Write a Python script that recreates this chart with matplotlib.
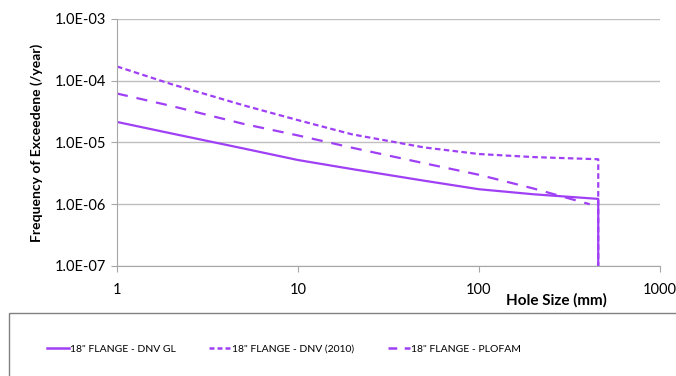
import math
import matplotlib
matplotlib.use("Agg")
import matplotlib.pyplot as plt
from matplotlib.patches import Rectangle
from matplotlib.lines import Line2D
from matplotlib.ticker import FixedLocator, FuncFormatter, NullLocator

plt.rcParams['font.family'] = ['Lato', 'DejaVu Sans']

# Data
x_gl = [1, 2, 5, 10, 20, 50, 100, 200, 457, 457]
y_gl = [2.15e-5, 1.4e-5, 8.0e-6, 5.2e-6, 3.7e-6, 2.4e-6, 1.75e-6, 1.45e-6, 1.22e-6, 1e-7]

x_dnv = [1, 2, 5, 10, 20, 50, 100, 200, 457, 457]
y_dnv = [1.7e-4, 8.8e-5, 4.0e-5, 2.3e-5, 1.35e-5, 8.3e-6, 6.5e-6, 5.8e-6, 5.35e-6, 1e-7]

x_plo = [1, 2, 5, 10, 20, 50, 100, 200, 410]
y_plo = [6.2e-5, 3.9e-5, 2.0e-5, 1.3e-5, 8.2e-6, 4.6e-6, 3.0e-6, 1.8e-6, 1.0e-6]

labels = ['18" FLANGE - DNV GL', '18" FLANGE - DNV (2010)', '18" FLANGE - PLOFAM']
color = '#A040F5'

fig = plt.figure(figsize=(6.76, 3.76), dpi=100)
ax = fig.add_axes([0.173, 0.2926, 0.803, 0.657])

ax.plot(x_gl, y_gl, color=color, lw=1.6)
ax.plot(x_dnv, y_dnv, color=color, lw=1.6, dashes=(2.5, 1.5))
ax.plot(x_plo, y_plo, color=color, lw=1.6, dashes=(5, 4))

ax.set_xscale('log')
ax.set_yscale('log')
ax.set_xlim(1, 1000)
ax.set_ylim(1e-7, 1e-3)
ax.yaxis.set_major_locator(FixedLocator([1e-7, 1e-6, 1e-5, 1e-4, 1e-3]))
ax.yaxis.set_minor_locator(NullLocator())
ax.xaxis.set_major_locator(FixedLocator([1, 10, 100, 1000]))
ax.xaxis.set_minor_locator(NullLocator())
ax.yaxis.set_major_formatter(FuncFormatter(lambda v, p: '1.0E-%02d' % round(-math.log10(v))))
ax.xaxis.set_major_formatter(FuncFormatter(lambda v, p: '%d' % round(v)))

ax.grid(axis='y', color='#BFBFBF', lw=1)
ax.set_axisbelow(True)
for s in ['top', 'right']:
    ax.spines[s].set_visible(False)
for s in ['left', 'bottom']:
    ax.spines[s].set_color('#A6A6A6')
ax.tick_params(axis='both', colors='#A6A6A6', labelcolor='black', labelsize=10.5, length=4)
ax.tick_params(axis='x', pad=8)

ax.set_ylabel('Frequency of Exceedene (/year)', fontsize=10, fontweight='bold', labelpad=9)
ax.set_xlabel('Hole Size (mm)', fontsize=11, fontweight='bold')
ax.xaxis.set_label_coords(0.81, -0.11)

fig.patches.append(Rectangle((9 / 676, -0.1), 1.2, 1 - 313 / 376 + 0.1,
                             transform=fig.transFigure, fill=False,
                             edgecolor='#808080', lw=1))

handles = [
    Line2D([], [], color=color, lw=1.8),
    Line2D([], [], color=color, lw=1.8, dashes=(2, 1.2)),
    Line2D([], [], color=color, lw=1.8, dashes=(3.5, 3)),
]
fig.legend(handles, labels, loc='center left', bbox_to_anchor=(43 / 676, 1 - 349 / 376),
           ncol=3, frameon=False, fontsize=7.5, handlelength=2.1, handletextpad=0.1,
           columnspacing=3.2, borderaxespad=0)

fig.savefig('out.png', dpi=100)
